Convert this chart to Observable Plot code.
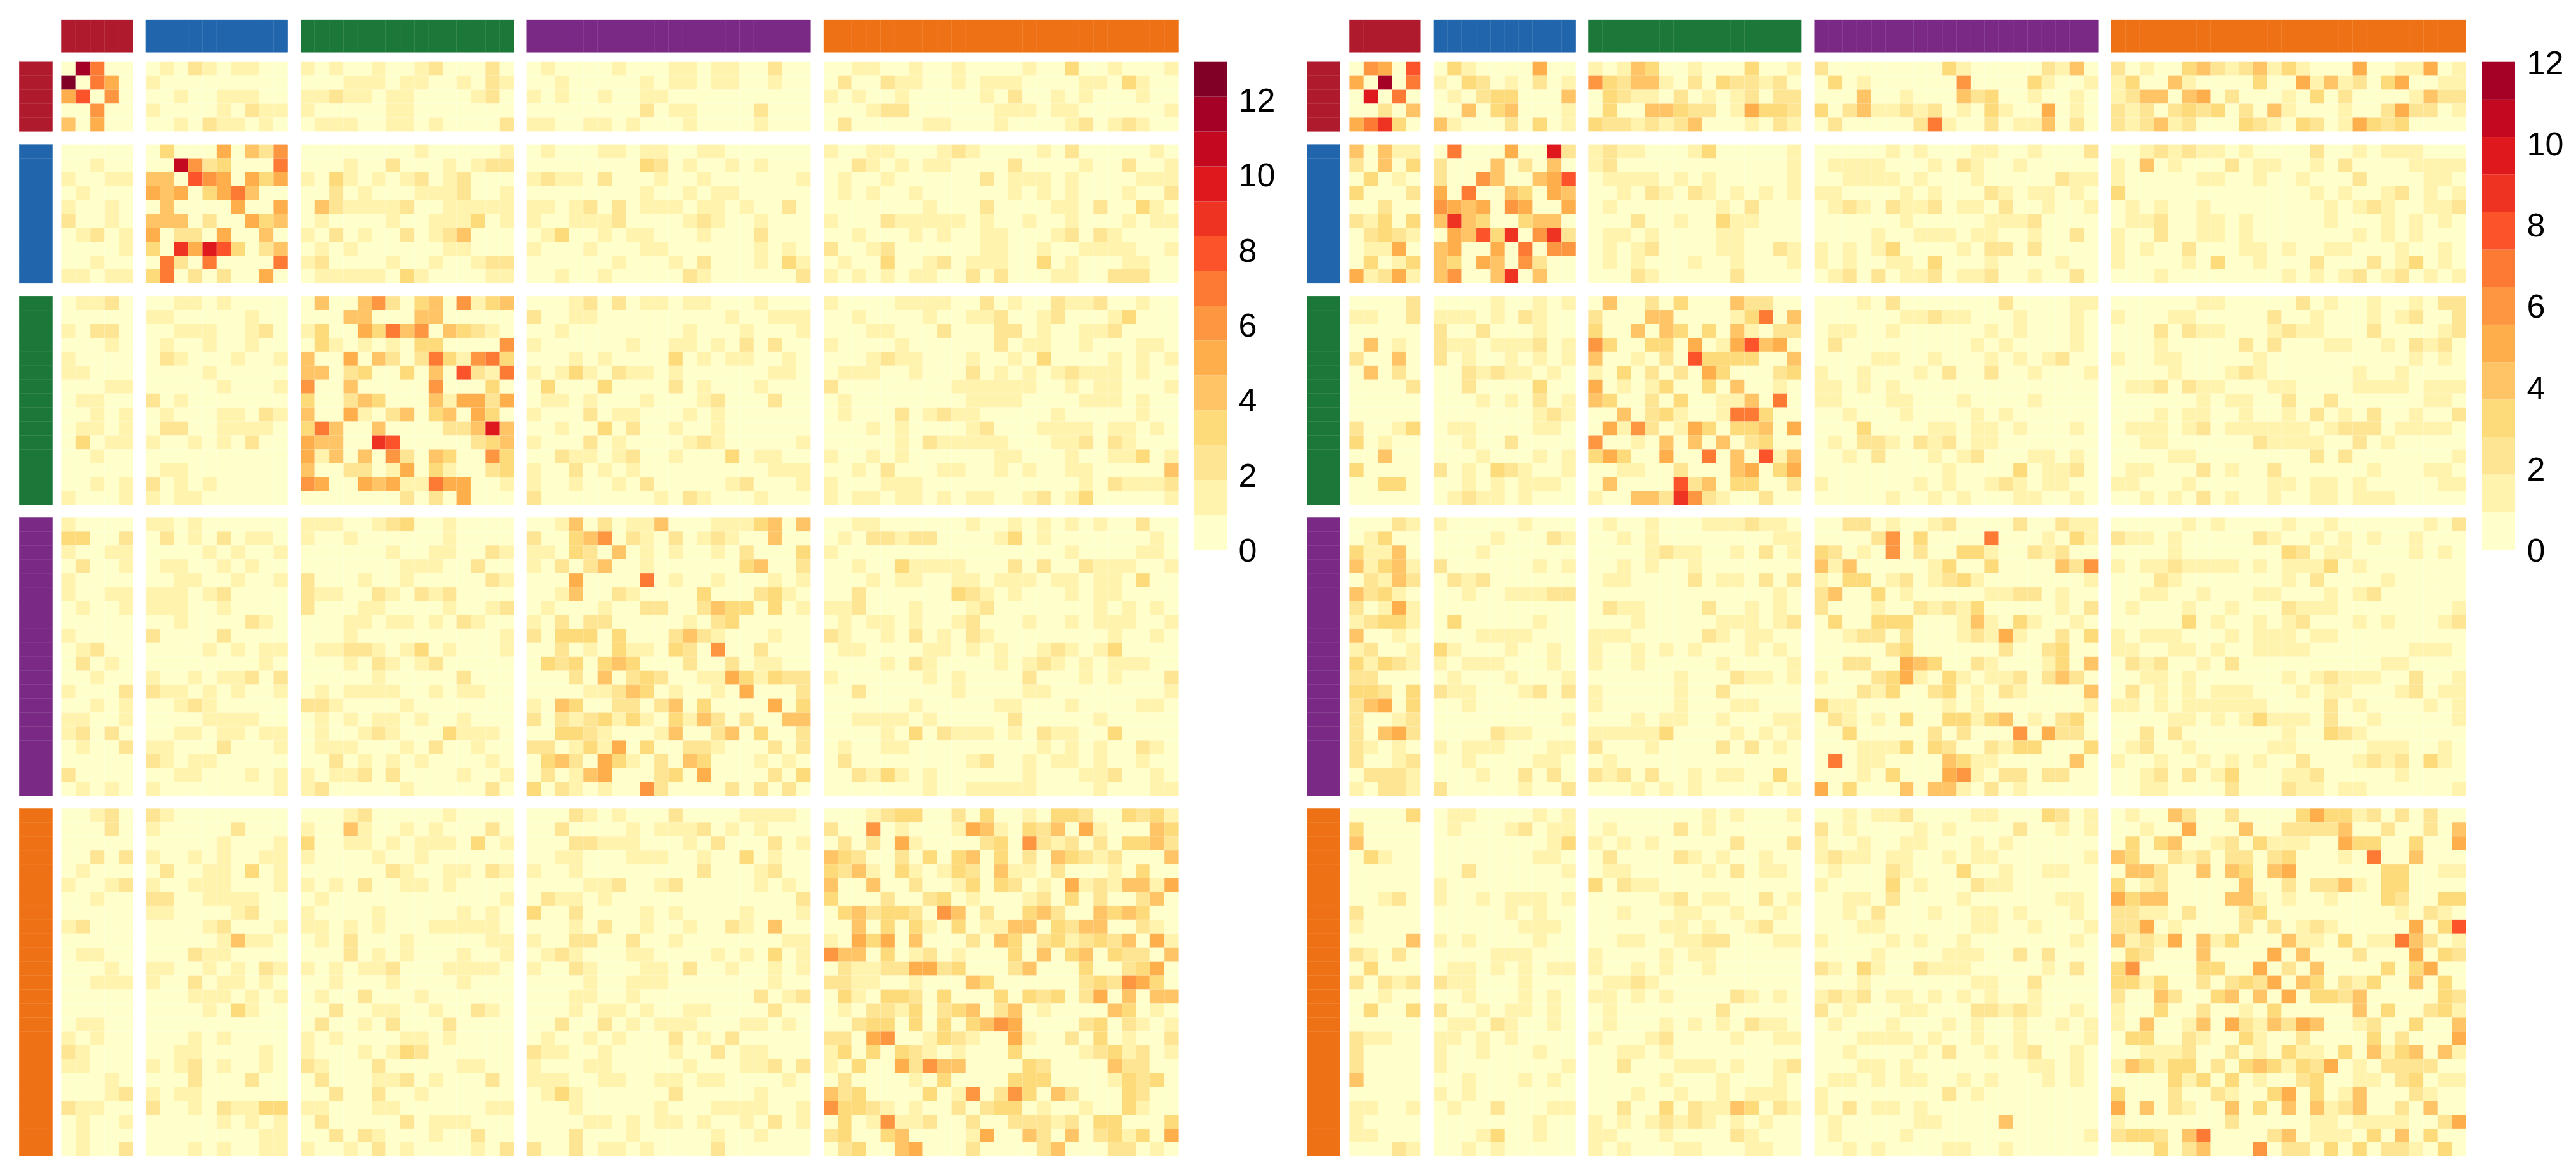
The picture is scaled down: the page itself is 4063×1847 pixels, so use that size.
<!DOCTYPE html>
<html>
<head>
<meta charset="utf-8">
<script src="https://cdn.jsdelivr.net/npm/d3@7"></script>
<script src="https://cdn.jsdelivr.net/npm/@observablehq/plot@0.6"></script>
<style>
html,body{margin:0;padding:0;background:#fff}
#chart{position:relative;width:4063px;height:1847px;overflow:hidden;background:#fff}
</style>
</head>
<body>
<div id="chart"></div>
<script>
const groupSizes = [5, 10, 15, 20, 25];
const groupColors = ["#b01a2d", "#2166ac", "#1c7838", "#7a2a85", "#ee7215"];
const palette = ["#ffffcc","#fff3ae","#fee593","#fedb7a","#fec465","#feaf4b","#fd9640","#fd7a35","#fc532b","#ef3323","#de181d","#c4081f","#a50026","#800026"];
const leftTicks = [0, 2, 4, 6, 8, 10, 12];
const rightTicks = [0, 2, 4, 6, 8, 10, 12];
const leftMax = 13;
const rightMax = 12;

// one string per row, one block per group, one base-14 digit per cell
const leftRows = [
"0c700 0102101100 101001001200020 01000010001101100200 0011001001000010030010001",
"d0750 1000000000 000111011001021 00100000101101100100 0200211001011100001103100",
"58060 0010011100 112110110000120 10100100110000000000 1010010000010200101000100",
"00600 1000010211 100000110000000 00000000201100002000 0001220000001110110000001",
"40500 0010211010 011100110100002 11001101000100001000 0200000110001000012012100",
"00000 0300050426 000000001000001 01000110110011000000 1001100012100001020000010",
"00100 00b6230007 000100200010122 00000000320100101000 0021010110000200001002001",
"10011 4408650535 103101012012000 12110200010010000001 0100100000020111010000111",
"01000 5450357400 002010001112001 00000000100101100000 0101001000000101010001002",
"10010 0400005005 042111120011111 11012020111011010020 0000000100020000110200310",
"20010 4440200534 010000100111301 10011120000121001000 1000211111010010010001011",
"01201 5022050040 102010020124000 01300101100010002000 0010001010011000120210000",
"00001 3095a83024 010100000011000 10001000110000001010 2001200000011001001111001",
"00100 0720700007 120000100100122 00000010001020001031 0100300120111003010001100",
"11011 3702020050 011111031000011 00100100000210000002 1010101100202000110022200",
"01120 0011010000 040046203406134 00012020110110001000 1000011110020100211200100",
"00000 1100000100 000440004400000 20011000000000100111 0010000100112001200013000",
"10220 0011100120 130053746043210 00100000000100010001 0001100020002201001120000",
"00010 0100100100 031010103300006 10000001001101020200 1000010000002011001000110",
"10000 0210001001 400504202731673 00010100003010110010 0001211000100103000010101",
"11000 0000100000 440230030408217 10131021101000000110 0111001000201010121110100",
"00011 0000010001 600400000600030 03000300002010001000 2000000001111110010110001",
"01100 2010000000 300243000415525 01101000100012000200 0100000000111100001110100",
"00101 0100011021 400510240340530 10002011000101000000 0100020121100000100000100",
"01101 0220011110 3740040000224a4 00100302001001000000 0001010000120001111011010",
"03011 1001010200 544009800000234 10002010000121000001 0000010211111000112021000",
"00100 0000000000 514040620430063 00211012001000301100 1001010000001100010011301",
"00000 0110000000 400220150310023 10020101000000000111 0010200011001010011000004",
"00101 2010100000 650054511755001 10010010200000120001 1000111000000000001021112",
"10001 1011000000 000000020205000 20000000010210001000 1011011010110012013000001",
"10000 1101000000 111001230010000 00140201140001113404 0011000000100101010100200",
"33002 0201020110 100100000010000 20034602102012100400 0102212200001301000000010",
"10011 0000101001 000000100110021 11032040101001020003 1000000000000000010000110",
"02001 0110010100 000000011100200 10202400100000034002 0010031111000202002111001",
"10000 0011001001 200010010000021 00050000701001000101 0001011001101110110110300",
"10011 1110120000 211002102120000 00140021000030002310 0020000003210100010110000",
"01001 1110010000 200011000010012 01000100220024330301 1120001000120000000101010",
"00000 0010000210 000110110102100 10202200000102300000 0101101001200010010111001",
"10000 2000020000 000100000000001 20333030002421000100 2100102010210000000010010",
"01200 0000101011 011221013010001 00201031103206002000 0110000110101001210130000",
"02010 0000000010 000102101200000 03230343000200201100 0000102100001012101011100",
"00100 1001011202 000001000002000 00020402320011531322 1000000101000020001010002",
"10002 2110101001 010111100101100 00001124301001050002 0020000001000011000000001",
"00101 0012100000 221000010000000 10430022024030000503 0000001000001100010000110",
"11001 0000111100 010101101001000 20212313103142020044 0011110100000200000100000",
"12020 0011011011 010012100031110 00332100014002403002 0000103021110102110030000",
"01002 1100020001 011100010200100 22013150300221000202 0100110000000001010100210",
"00000 2101100000 002010101000010 03420531020430001010 0200000000120010110100100",
"20000 0011000101 101120200001001 02014500023050000203 0021310100000010001120010",
"01010 1000000001 120000010000020 30210100620000202020 0000000100111110000100011",
"00120 2100000000 000120000010000 00021010002000011110 0001233002030010332003231",
"00020 1000002000 100410010100020 00200001011120101000 2006010001541032405100043",
"00000 0000010001 300110101110301 00022111000102000201 0202051000023062120203342",
"00202 1001010011 100001001000000 00110001110010030100 4320020303403020432120004",
"01000 0200110301 000000210011021 10010000000020001200 3241031013204110200010300",
"10012 1001110001 101020011010000 00001120012000001010 4004002001303201051214415",
"00100 2200111100 010000000000001 02110100000000000002 3000200230100012030200240",
"00000 1100001200 100001000001010 30020000101000010001 0342332064020034200434300",
"12000 0000120001 110101000111110 00010200100100210400 0040303103011440324400210",
"00000 0000014110 010200010000011 10022002001000000011 1053504000204302312324051",
"01100 0002110000 000201010001001 01210001100001010301 6440301201000304034032204",
"00010 1100101021 101011200011110 10021000110200100101 0211225523000240003002350",
"00111 1002011010 001000100001000 00001001110000000100 2211001000430000002326530",
"00000 0001110101 010020001000000 00011001000000002012 0310332030003032302504044",
"00000 0000103100 002001100100210 00010110100110000200 0102213023402401000043010",
"01100 0000000000 020010200020000 00200201011100011010 0023303030346500002302101",
"10100 0001010000 101000011010000 01001010002010200000 2205600132100510020301002",
"21000 0011000010 100010132000000 21100100001002011000 1303032101000300001231201",
"11000 1012010010 210002000001100 10001100000100011202 1030052644000032000042200",
"00010 0002000200 020001120100020 11100110011011000010 0200001030000333000013230",
"00012 1011000000 002002001000000 01310000002000001000 4230000301602630420003200",
"21100 2001021133 110001100000011 00010000010001111001 6332101002023301001003100",
"01001 0000010101 020000020111000 00001101011010010201 0301611200200222120330003",
"01000 0000000011 002021000100200 00020001000001001000 2300340000150042040231305",
"01002 0001010011 100102010000102 20020110100002000000 0230045000200002400022010"
];

const rightRows = [
"06508 0310000500 101430010003001 20000000031000002140 2010034212413100050011501",
"50c07 1032010201 632441020322120 03010000006000031001 1300410000300514120350011",
"0a070 0102330004 032110201012022 00040010004230010010 1244045020001030200001422",
"00204 0040340001 030044322015332 30241121201031005010 2120232302041000100252201",
"57930 4100020301 322121240001021 02000002710020114020 2124120003210320153230000",
"40411 07000500a2 121100013000001 00000101000110010002 0012121101000020010111000",
"20403 2000402040 120000000000001 01111000102100100000 1040100020110010200001111",
"03010 2006400458 011110101000001 00111101000100000211 1000001100100100020000110",
"30002 5070043054 001021021010101 11000010100021011010 3000000000000010100120101",
"00200 6545065005 010000000102000 01210211201102001001 0101001000000001012100112",
"21303 4943003440 000200100311000 00000010000011120000 0112001101000001000101010",
"02321 0548390692 011010000110000 00001001110110010020 1002001101000000010101000",
"01150 4500507066 010120000110021 10101300001022020000 1010020001101001100010010",
"03013 4305406200 010100010010001 10100110300010000100 1000010300100020002013010",
"51251 4600490400 000210000020000 01202011201120010020 0001000000001010120120101",
"00002 0000100101 040020300042200 00010200000002000011 0000001100000201001001022",
"11002 1110102100 200044000013704 00000011211000100010 1000110000020010001012002",
"00000 2002000100 300404303041022 01100100000010100010 0002021100012110002000012",
"04010 2110111201 630033050158450 02000000000101000010 0001000002020001100102120",
"20040 2010010101 400102083333004 00001100100010101200 1001100000100000000001010",
"04020 0021211010 103020205300023 10010001020020010001 0000100012100000010010000",
"00002 0020000300 501013003040010 11010100000000000000 0112021100011000011110111",
"00000 0001010201 430020300114070 11000110001000010000 0000001011002002000000110",
"00000 0000000121 004023100177300 00100010000101000000 0001011001001020102001002",
"20013 0110000110 051620153033405 00030000110110100010 0111012011111101222011110",
"30100 0010020000 600104040402300 01022102120110000000 0011000000211110020100000",
"00400 0001000101 353005007040814 00102000101200011010 0000110000000020200000001",
"30000 2010321001 001100200045035 00000000010000301120 0110002010020000001000110",
"00330 0010101110 040000824033002 10000001010012101100 1100010000011011010000011",
"00000 0121101000 100442962100200 00000100101000110010 0010102010010011011100000",
"00021 1000001000 010010001112110 00220100120000200211 0000010100001001000000102",
"01300 0000100021 001010000000011 00002603000070001031 2110100000210010101001000",
"31140 0001000000 000012110010201 32010602003310021200 0000100000003201100001010",
"41341 2000000101 001010010000000 41400000130030000426 1011211110101113010000000",
"02142 0212000000 011000020110202 10330120123100000001 0002100000001020000100000",
"42310 0010011122 000000000000010 24003010000011220100 0011001000110001012000000",
"20151 0000000000 021100002001010 20001002121300000102 0100010010002111000000001",
"12331 0300000100 000100000111012 03003330001410310010 0000030100101200010100012",
"40010 0001111000 111000002101100 00122020001215100203 1011100010111011000000000",
"12001 3100010010 100101010001010 00000230000002002300 1100110100111100000001110",
"31321 1011100010 100100000100001 00220054300210001304 0212001020000000000110000",
"22000 0100010001 000000100021101 10002351031011202420 0011010000001012111002001",
"33203 2110001202 100000100200000 00021300230102100004 0201010111000101100012011",
"24503 0010000000 100000100011000 31100000010100000001 1101011111100002010000101",
"20012 0000000001 000101100100011 02101030033134010230 0000110101311102001000001",
"20452 0000211000 111113000010101 00300000202000605220 0020200000001003210000000",
"21010 1011100011 200010000202010 00011130320021330003 0120010000011000001110010",
"20012 0010000110 010000000000000 07011000043110000040 1001001010100200012120310",
"02221 0001002020 212020010110030 00010300056102202200 0012020130001120000010000",
"10221 2000001002 000101010000101 50300040441020100000 0011000020002110110000001",
"00003 0110000101 000000001010001 00101120000110003201 0100420020000353312020200",
"30000 0100012011 010000201000000 20100001010000200101 0010050004002222400200204",
"40000 0000000013 101010000020002 10010011000101000000 0303400120311100533003005",
"03100 0000000110 020000210100100 12110110010110000001 4300212022023000107004000",
"00000 0020000001 011000001020110 01000210003001001100 0442004043045000000330011",
"00000 1000000000 302110000000000 10000301000211000000 3012000004002022410330000",
"00120 1001011101 000001201100201 00110200001000000110 5344000044101001000320033",
"20000 0000010100 001000110010010 00102000100110100010 2211020002300000000010210",
"10000 0000001110 000001101001200 00011000000110010001 2250100002020121000005038",
"00004 1010000100 001100112200011 10000101001000000010 4121504130004110301174201",
"21020 0000111000 100001011000000 00001000011100202000 0320004000050400020005032",
"03000 0110101011 100101001000000 21031002111000001020 3600003300502040000303500",
"20212 2110001000 011210000000000 00010000000110020000 3313002023250430213004030",
"00100 0010001010 110101000021010 12120110101010010000 2004200340405033240000032",
"03003 2001011010 010000000200000 20100011000221210010 1003002001030000040300231",
"00000 0110210010 010001010102110 01000100010100100101 1040014052142540012003004",
"21100 1101010000 100012000010011 00011110100100100001 0330021003100200003020005",
"20000 1001000100 001101000000000 00100001020010120010 0011120020103110304134041",
"20000 1000000001 002000111010012 00011010000000011010 1431330203431325010222200",
"40000 0010001010 000001000100010 01101011001010001010 0000313030100230011023011",
"00000 1010000000 000100100101110 10000000020100000000 3000200210035030140002100",
"11001 0100200011 002003021143021 10201101000000000000 5040210040304041240020400",
"10000 0000000100 101012121010100 01000001100004000000 1000000020000011011110025",
"11000 0001300100 110001000021000 01000010000000000001 2332047000024011103040300",
"00021 0010100000 101000110001100 00101000011001000000 0003024000602203030221030"
];

const gapUnits = 0.92;
const starts = groupSizes.map((_, i) => d3.sum(groupSizes.slice(0, i)) + i * gapUnits);
const total = d3.sum(groupSizes) + (groupSizes.length - 1) * gapUnits;
const colorScale = {type: "ordinal", domain: d3.range(palette.length), range: palette};
const holder = document.getElementById("chart");

function place(left) {
  return {maxWidth: "none", background: "none", position: "absolute", left: left + "px", top: "0px", overflow: "visible"};
}

function cellsFrom(rows) {
  const out = [];
  let r = 0;
  rows.forEach(line => {
    const blocks = line.split(" ");
    let g = 0;
    // row index -> group and offset
    let acc = 0;
    while (r >= acc + groupSizes[g]) { acc += groupSizes[g]; g++; }
    const yStart = starts[g] + (r - acc);
    blocks.forEach((block, h) => {
      for (let c = 0; c < groupSizes[h]; c++) {
        out.push({x: starts[h] + c, y: yStart, v: parseInt(block[c] || "0", 14)});
      }
    });
    r++;
  });
  return out;
}

function stripCells() {
  const out = [];
  groupSizes.forEach((n, g) => {
    for (let c = 0; c < n; c++) out.push({p: starts[g] + c, color: groupColors[g]});
  });
  return out;
}

function panel(rows, left) {
  const strip = stripCells();
  holder.appendChild(Plot.plot({
    width: 1880, height: 1847, margin: 0,
    x: {axis: null, domain: [0, total], range: [97.4, 1858.6]},
    y: {axis: null, domain: [0, total], range: [97.7, 1823.8]},
    color: colorScale,
    style: place(left),
    marks: [
      Plot.rect(strip, {x1: d => d.p, x2: d => d.p + 1, y1: -3.04, y2: -0.70, fill: d => d.color, stroke: d => d.color, strokeWidth: 0.3}),
      Plot.rect(strip, {x1: -3.0, x2: -0.66, y1: d => d.p, y2: d => d.p + 1, fill: d => d.color, stroke: d => d.color, strokeWidth: 0.3}),
      Plot.rect(cellsFrom(rows), {x1: d => d.x, x2: d => d.x + 1, y1: d => d.y, y2: d => d.y + 1, fill: d => d.v})
    ]
  }));
}

function colorbar(maxValue, ticks, left) {
  const levels = d3.range(maxValue + 1);
  const step = maxValue / levels.length;
  holder.appendChild(Plot.plot({
    width: 180, height: 1847,
    marginLeft: 0, marginRight: 128, marginTop: 97.7, marginBottom: 980,
    x: {axis: null, domain: [0, 1]},
    y: {domain: [0, maxValue]},
    color: colorScale,
    style: place(left),
    marks: [
      Plot.rect(levels, {x1: 0, x2: 1, y1: d => d * step, y2: d => (d + 1) * step, fill: d => d}),
      Plot.axisY(ticks, {anchor: "right", tickSize: 0, tickPadding: 18, fontSize: 52, dy: 2, fontFamily: "'Liberation Sans', Arial, sans-serif", fill: "#000", label: null, tickFormat: d => String(d)})
    ]
  }));
}

panel(leftRows, 0);
colorbar(leftMax, leftTicks, 1883.3);
panel(rightRows, 2031);
colorbar(rightMax, rightTicks, 3915);
</script>
</body>
</html>
